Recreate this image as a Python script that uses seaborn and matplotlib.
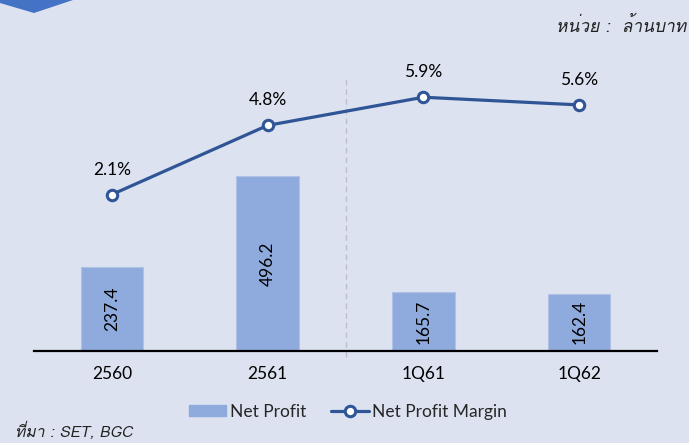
import numpy as np
import pandas as pd
import matplotlib
matplotlib.use("Agg")
import matplotlib.pyplot as plt
import matplotlib.transforms as mtransforms
from matplotlib.patches import Polygon, Patch
from matplotlib.lines import Line2D
from matplotlib import font_manager as fm
from matplotlib.ft2font import FT2Font
import seaborn as sns

categories = ["2560", "2561", "1Q61", "1Q62"]
net_profit = [237.4, 496.2, 165.7, 162.4]
margin = [2.1, 4.8, 5.9, 5.6]
unit_text = "หน่วย :  ล้านบาท"
source_text = "ที่มา : SET, BGC"
legend_labels = ["Net Profit", "Net Profit Margin"]

BG = "#DCE2F0"
BAR = "#8FAADC"
LINE = "#2F5597"
TAB = "#4472C4"

# find fonts with Thai glyphs (prefer Loma)
thai_fonts = []
for f in fm.fontManager.ttflist:
    try:
        cm = FT2Font(f.fname).get_charmap()
    except Exception:
        continue
    if 0x0E2B in cm and 0x0E48 in cm:
        if f.name not in thai_fonts:
            thai_fonts.append(f.name)
if "Loma" in thai_fonts:
    thai_fonts.remove("Loma")
    thai_fonts.insert(0, "Loma")

sns.set_theme(style="white")
MAIN = "Lato"
plt.rcParams["font.family"] = [MAIN, "DejaVu Sans"]
FS = 12.5

W, H = 689, 443
fig = plt.figure(figsize=(W / 100, H / 100), dpi=100, facecolor=BG)
left, right = 34 / W, 657 / W
bottom = (H - 350.7) / H
top = (H - 45) / H
ax = fig.add_axes([left, bottom, right - left, top - bottom])
ax.set_facecolor("none")

df = pd.DataFrame({"cat": categories, "profit": net_profit})
sns.barplot(data=df, x="cat", y="profit", ax=ax, color=BAR, width=0.4,
            edgecolor="#AFC2E6", linewidth=0.8, saturation=1)
ax.set_xlim(-0.5, 3.5)
ax.set_ylim(0, 870)
for s in ["top", "left", "right"]:
    ax.spines[s].set_visible(False)
ax.spines["bottom"].set_color("black")
ax.spines["bottom"].set_linewidth(1.6)
ax.set_yticks([])
ax.set_xlabel("")
ax.set_ylabel("")
ax.bar_label(ax.containers[0], labels=[f"{v:.1f}" for v in net_profit],
             label_type="center", rotation=90, fontsize=FS, color="black")

ax2 = ax.twinx()
ax2.set_facecolor("none")
dfl = pd.DataFrame({"x": np.arange(len(categories)), "m": margin})
sns.lineplot(data=dfl, x="x", y="m", ax=ax2, color=LINE, linewidth=2.3,
             marker="o", markersize=7.5, markerfacecolor="white",
             markeredgecolor=LINE, markeredgewidth=2.2)
ax2.set_ylim(-4, 7.94)
ax2.set_xlim(-0.5, 3.5)
for s in ax2.spines.values():
    s.set_visible(False)
ax2.set_yticks([])
ax2.set_ylabel("")
ax2.set_xlabel("")
for i, v in enumerate(margin):
    ax2.annotate(f"{v}%", (i, v), xytext=(0, 18), textcoords="offset points",
                 ha="center", va="center", fontsize=FS, color="black")

ax.set_xticks(range(len(categories)))
ax.set_xticklabels(categories, fontsize=FS, color="black")
ax.tick_params(axis="x", length=0, pad=11)

# dashed divider
trans = mtransforms.blended_transform_factory(ax.transData, ax.transAxes)
ax.plot([1.5, 1.5], [-0.02, 0.9], transform=trans, color="#BBBFC6",
        linewidth=1.0, linestyle=(0, (4, 3)), clip_on=False, zorder=0)

# top-left tab
tab = Polygon([(0 / W, 1), (0 / W, (H - 3) / H), (34 / W, (H - 13) / H), (73 / W, 1)],
              closed=True, transform=fig.transFigure, facecolor=TAB, edgecolor="none")
fig.patches.append(tab)

tf = [thai_fonts[0], "DejaVu Sans"] if thai_fonts else ["DejaVu Sans"]
fig.text(686 / W, 1 - 26 / H, unit_text, ha="right", va="center",
         fontsize=12.5, style="italic", color="#222222", family=tf)
fig.text(15 / W, 1 - 431 / H, source_text, ha="left", va="center",
         fontsize=11.3, style="italic", color="#222222", family=tf)

handles = [Patch(facecolor=BAR, edgecolor=BAR),
           Line2D([0], [0], color=LINE, linewidth=2.3, marker="o", markersize=7.5,
                  markerfacecolor="white", markeredgecolor=LINE, markeredgewidth=2.2)]
fig.legend(handles, legend_labels, loc="center", bbox_to_anchor=(348 / W, 1 - 412 / H),
           ncol=2, frameon=False, fontsize=FS, handlelength=2.15, handletextpad=0.2,
           columnspacing=1.45, handleheight=0.6)

fig.savefig("out.png", dpi=100, facecolor=BG)
